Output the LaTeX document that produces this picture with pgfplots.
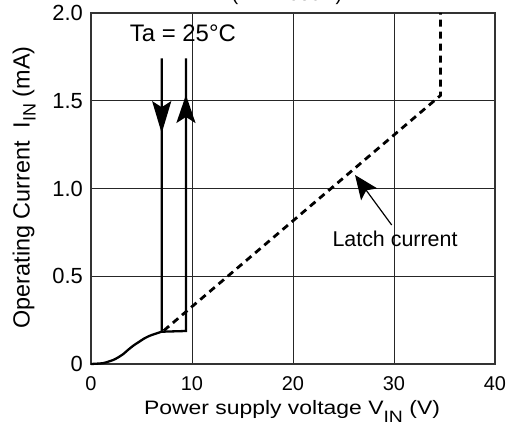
\documentclass[border=0pt]{standalone}
\usepackage{fontspec}
\setmainfont{Liberation Sans}
\usepackage{graphicx}
\usepackage{pgfplots}
\pgfplotsset{compat=1.18}
\usetikzlibrary{arrows.meta}

\newcommand{\fs}[1]{\fontsize{#1}{#1}\selectfont}
% subscript: size, drop, text
\newcommand{\sub}[3]{\raisebox{-#2}{\fs{#1}#3}}

\begin{document}
\begin{tikzpicture}
\begin{axis}[
    at={(91bp,62bp)}, anchor=south west,
    scale only axis, width=404bp, height=351bp,
    xmin=0, xmax=40, ymin=0, ymax=2,
    xtick={0,10,20,30,40},
    ytick={0,0.5,1,1.5,2},
    yticklabels={0,0.5,1.0,1.5,2.0},
    grid=major,
    major grid style={line width=1bp, draw=black!85},
    axis line style={line width=2bp, draw=black!80},
    tick style={draw=none},
    /pgf/number format/assume math mode=true,
    xticklabel style={font=\fs{20}, inner sep=0pt, anchor=north, yshift=-12bp},
    yticklabel style={font=\fs{22}, inner sep=0pt, anchor=east, xshift=-8bp},
    title={(HA17385H)},
    title style={at={(axis description cs:0.485,1)}, anchor=base, yshift=7bp,
                 inner sep=0pt, font=\fs{20}},
    xlabel={\scalebox{1.18}[1]{Power supply voltage V\sub{16.5}{8bp}{IN} (V)}},
    xlabel style={at={(axis description cs:0.4975,-0.1425)}, anchor=base,
                  inner sep=0pt, font=\fs{19.5}},
    ylabel={Operating Current\ \ I\sub{18}{6bp}{IN} (mA)},
    ylabel style={at={(axis description cs:-0.1522,0.503)}, anchor=base,
                  inner sep=0pt, font=\fs{23.5}},
    clip=false,
]

% rising part of the operating current
\addplot[black, line width=2.3bp, smooth, tension=0.4] coordinates {
    (0,0) (1.2,0.005) (2.2,0.023) (2.7,0.038) (3.2,0.057) (3.7,0.082)
    (4.2,0.105) (4.7,0.124) (5.2,0.143) (5.7,0.158) (6.2,0.169) (7,0.184)
};
% hysteresis loop
\addplot[black, line width=2.3bp, sharp plot, line join=miter] coordinates {
    (7,1.742) (7,0.184) (9.4,0.188) (9.4,1.742)
};
% latch current
\addplot[black, line width=2.8bp, dash pattern=on 7bp off 5bp, sharp plot] coordinates {
    (7.2,0.19) (34.6,1.53) (34.6,2.0)
};

\draw[black, line width=2.3bp, -{Stealth[length=32bp,width=19bp,inset=6bp]}]
    (axis cs:7,1.62) -- (axis cs:7,1.315);
\draw[black, line width=2.3bp, -{Stealth[length=28bp,width=19bp,inset=6bp]}]
    (axis cs:9.4,1.25) -- (axis cs:9.4,1.533);

\node[anchor=base, font=\fs{24}, inner sep=0pt] at (axis cs:9.1,1.836) {Ta = 25°C};

\draw[black, line width=1.2bp, -{Stealth[length=24bp,width=20bp,inset=5bp]}]
    (axis cs:29.77,0.792) -- (axis cs:26.14,1.077);
\node[anchor=base, font=\fs{21.5}, inner sep=0pt] at (axis cs:30.1,0.668) {Latch current};

\end{axis}
\pgfresetboundingbox
\useasboundingbox (0,0) rectangle (516bp,426bp);
\end{tikzpicture}
\end{document}
